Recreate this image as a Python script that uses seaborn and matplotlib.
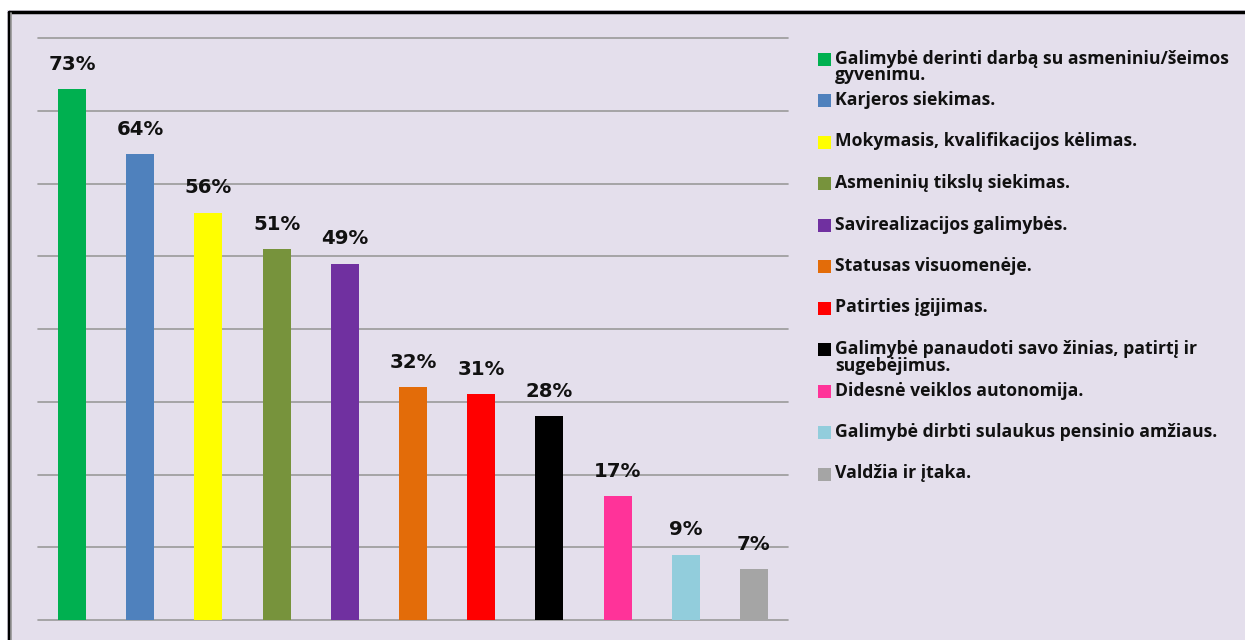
import matplotlib
matplotlib.use("Agg")
import matplotlib.pyplot as plt
import seaborn as sns
import pandas as pd
from matplotlib.patches import Rectangle
from matplotlib.lines import Line2D

categories = [
    "Galimybė derinti darbą su asmeniniu/šeimos\ngyvenimu.",
    "Karjeros siekimas.",
    "Mokymasis, kvalifikacijos kėlimas.",
    "Asmeninių tikslų siekimas.",
    "Savirealizacijos galimybės.",
    "Statusas visuomenėje.",
    "Patirties įgijimas.",
    "Galimybė panaudoti savo žinias, patirtį ir\nsugebėjimus.",
    "Didesnė veiklos autonomija.",
    "Galimybė dirbti sulaukus pensinio amžiaus.",
    "Valdžia ir įtaka.",
]
values = [73, 64, 56, 51, 49, 32, 31, 28, 17, 9, 7]
colors = ["#00B050", "#4F81BD", "#FFFF00", "#77933C", "#7030A0", "#E36C09",
          "#FF0000", "#000000", "#FF3399", "#92CDDC", "#A5A5A5"]

BG = "#E4DFEC"
W, H = 1245, 640

sns.set_theme(style="white")
plt.rcParams["font.family"] = ["DejaVu Sans"]

fig = plt.figure(figsize=(W / 100, H / 100), dpi=100, facecolor="white")

# background panel with frame
fig.patches.append(Rectangle((7 / W, 0), 1 - 7 / W, 1 - 10 / H, transform=fig.transFigure,
                             facecolor=BG, edgecolor="none", zorder=-5))
fig.add_artist(Line2D([8.5 / W, 1], [1 - 11.5 / H, 1 - 11.5 / H], transform=fig.transFigure,
                      color="black", lw=2.5, zorder=5))
fig.add_artist(Line2D([8.5 / W, 8.5 / W], [0, 1 - 11.5 / H], transform=fig.transFigure,
                      color="black", lw=2.5, zorder=5))
fig.add_artist(Line2D([11 / W, 11 / W], [0, 1 - 13 / H], transform=fig.transFigure,
                      color="#A0A0A0", lw=1.2, zorder=5))

ax = fig.add_axes([38 / W, 1 - 620 / H, (788 - 38) / W, (620 - 38) / H])
ax.set_facecolor("none")

df = pd.DataFrame({"cat": categories, "val": values})
sns.barplot(data=df, x="cat", y="val", hue="cat", palette=colors, legend=False,
            width=0.41, ax=ax, saturation=1, zorder=3, edgecolor="none", linewidth=0)

ax.set_ylim(0, 80)
ax.set_yticks(range(0, 81, 10))
ax.yaxis.grid(True, color="#9A9A9A", lw=1.2)
for gl in ax.get_ygridlines():
    gl.set_clip_on(False)
ax.set_axisbelow(True)
for s in ax.spines.values():
    s.set_visible(False)
ax.set_xticks([])
ax.set_yticklabels([])
ax.tick_params(left=False, bottom=False)
ax.set_xlabel("")
ax.set_ylabel("")

for i, v in enumerate(values):
    ax.annotate(f"{v}%", (i, v), xytext=(0, 11), textcoords="offset points",
                ha="center", va="bottom", fontsize=14.2, fontweight="bold", color="#111111")

# legend
for i, (lab, c) in enumerate(zip(categories, colors)):
    yc = 59 + i * 41.5
    fig.patches.append(Rectangle((818 / W, 1 - (yc + 6.5) / H), 13 / W, 13 / H,
                                 transform=fig.transFigure, facecolor=c, edgecolor="none", zorder=3))
    fig.text(835 / W, 1 - (yc - 9.5) / H, lab, ha="left", va="top", fontsize=12.7,
             fontweight="bold", family=["Open Sans", "DejaVu Sans"], linespacing=0.9, color="#111111")

fig.savefig("out.png", dpi=100, facecolor=fig.get_facecolor())
